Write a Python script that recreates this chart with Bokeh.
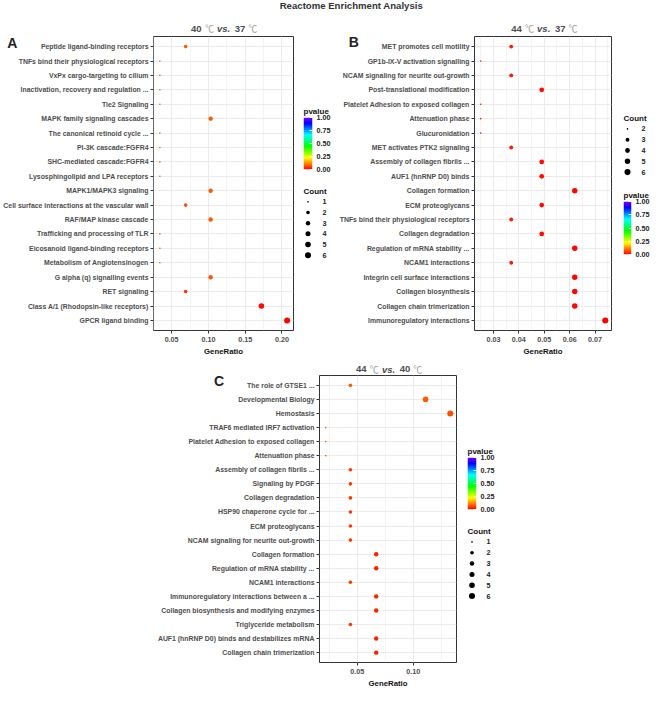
import colorsys, math
import numpy as np
from bokeh.plotting import figure
from bokeh.models import (ColumnDataSource, FactorRange, Range1d, LinearColorMapper,
                          FixedTicker, NumeralTickFormatter, Label, LinearAxis)
from bokeh.layouts import row, column
from bokeh.embed import file_html
from bokeh.resources import INLINE

FONT = "Liberation Sans"
TXT = "#4D4D4D"

# ---------------- data ----------------
MAIN_TITLE = "Reactome Enrichment Analysis"
DEG = "\u2103"

A_TITLE = ["40", "vs.", "37"]
A_TERMS = ["Peptide ligand-binding receptors", "TNFs bind their physiological receptors",
           "VxPx cargo-targeting to cilium", "Inactivation, recovery and regulation ...",
           "Tie2 Signaling", "MAPK family signaling cascades", "The canonical retinoid cycle ...",
           "PI-3K cascade:FGFR4", "SHC-mediated cascade:FGFR4", "Lysosphingolipid and LPA receptors",
           "MAPK1/MAPK3 signaling", "Cell surface interactions at the vascular wall",
           "RAF/MAP kinase cascade", "Trafficking and processing of TLR",
           "Eicosanoid ligand-binding receptors", "Metabolism of Angiotensinogen",
           "G alpha (q) signalling events", "RET signaling",
           "Class A/1 (Rhodopsin-like receptors)", "GPCR ligand binding"]
A_RATIO = [0.069, 0.034, 0.034, 0.034, 0.034, 0.103, 0.034, 0.034, 0.034, 0.034,
           0.103, 0.069, 0.103, 0.034, 0.034, 0.034, 0.103, 0.069, 0.172, 0.207]
A_COUNT = [2, 1, 1, 1, 1, 3, 1, 1, 1, 1, 3, 2, 3, 1, 1, 1, 3, 2, 5, 6]
A_PVAL = [0.08, 0.09, 0.09, 0.09, 0.09, 0.08, 0.09, 0.09, 0.09, 0.09,
          0.08, 0.07, 0.08, 0.09, 0.09, 0.09, 0.08, 0.05, 0.01, 0.005]
A_TICKS = [0.05, 0.10, 0.15, 0.20]
A_MINOR = [0.025, 0.075, 0.125, 0.175, 0.225]
A_KEYS = [1, 2, 3, 4, 5, 6]

B_TITLE = ["44", "vs.", "37"]
B_TERMS = ["MET promotes cell motility", "GP1b-IX-V activation signalling",
           "NCAM signaling for neurite out-growth", "Post-translational modification",
           "Platelet Adhesion to exposed collagen", "Attenuation phase", "Glucuronidation",
           "MET activates PTK2 signaling", "Assembly of collagen fibrils ...",
           "AUF1 (hnRNP D0) binds", "Collagen formation", "ECM proteoglycans",
           "TNFs bind their physiological receptors", "Collagen degradation",
           "Regulation of mRNA stability ...", "NCAM1 interactions",
           "Integrin cell surface interactions", "Collagen biosynthesis",
           "Collagen chain trimerization", "Immunoregulatory interactions"]
B_RATIO = [0.037, 0.025, 0.037, 0.049, 0.025, 0.025, 0.025, 0.037, 0.049, 0.049,
           0.062, 0.049, 0.037, 0.049, 0.062, 0.037, 0.062, 0.062, 0.062, 0.074]
B_COUNT = [3, 2, 3, 4, 2, 2, 2, 3, 4, 4, 5, 4, 3, 4, 5, 3, 5, 5, 5, 6]
B_PVAL = [0.02, 0.03, 0.02, 0.01, 0.03, 0.03, 0.03, 0.02, 0.01, 0.01,
          0.005, 0.01, 0.02, 0.01, 0.005, 0.02, 0.005, 0.005, 0.005, 0.002]
B_TICKS = [0.03, 0.04, 0.05, 0.06, 0.07]
B_MINOR = [0.025, 0.035, 0.045, 0.055, 0.065, 0.075]
B_KEYS = [2, 3, 4, 5, 6]

C_TITLE = ["44", "vs.", "40"]
C_TERMS = ["The role of GTSE1 ...", "Developmental Biology", "Hemostasis",
           "TRAF6 mediated IRF7 activation", "Platelet Adhesion to exposed collagen",
           "Attenuation phase", "Assembly of collagen fibrils ...", "Signaling by PDGF",
           "Collagen degradation", "HSP90 chaperone cycle for ...", "ECM proteoglycans",
           "NCAM signaling for neurite out-growth", "Collagen formation",
           "Regulation of mRNA stability ...", "NCAM1 interactions",
           "Immunoregulatory interactions between a ...",
           "Collagen biosynthesis and modifying enzymes", "Triglyceride metabolism",
           "AUF1 (hnRNP D0) binds and destabilizes mRNA", "Collagen chain trimerization"]
C_RATIO = [0.044, 0.111, 0.133, 0.022, 0.022, 0.022, 0.044, 0.044, 0.044, 0.044,
           0.044, 0.044, 0.067, 0.067, 0.044, 0.067, 0.067, 0.044, 0.067, 0.067]
C_COUNT = [2, 5, 6, 1, 1, 1, 2, 2, 2, 2, 2, 2, 3, 3, 2, 3, 3, 2, 3, 3]
C_PVAL = [0.08, 0.08, 0.07, 0.09, 0.09, 0.09, 0.05, 0.05, 0.05, 0.05,
          0.05, 0.05, 0.03, 0.03, 0.05, 0.03, 0.03, 0.05, 0.03, 0.03]
C_TICKS = [0.05, 0.10]
C_MINOR = [0.025, 0.075, 0.125]
C_KEYS = [1, 2, 3, 4, 5, 6]

PVAL_TICKS = [0.0, 0.25, 0.5, 0.75, 1.0]

# ---------------- layout helpers ----------------
SX = 653 / 669
SY = 690 / 706


def rx(v):
    return int(round(v * SX))


def ry(v):
    return int(round(v * SY))


PAL = []
for i in range(256):
    r, g, b = colorsys.hsv_to_rgb(0.75 * i / 255, 1.0, 1.0)
    PAL.append("#%02x%02x%02x" % (round(r * 255), round(g * 255), round(b * 255)))
MAPPER = LinearColorMapper(palette=PAL, low=0, high=1)
GRAD = np.linspace(0, 1, 256).reshape(256, 1)


def dot_size(c, cmin, cmax):
    return (0.9 * (1 + 5 * math.sqrt((c - cmin) / (cmax - cmin))) + 0.8) * SX


def bare_fig(W, H, **kw):
    p = figure(width=W, height=H, x_axis_type=None, y_axis_type=None,
               x_range=Range1d(0, 1), y_range=Range1d(0, 1), toolbar_location=None,
               output_backend="svg", title=None, min_border=0, **kw)
    p.outline_line_color = None
    p.grid.visible = False
    p.border_fill_alpha = 0
    p.background_fill_alpha = 0
    return p


def add_text(p, H, xref, yref, text, size, style, color, align="center", font=FONT):
    p.add_layout(Label(x=xref * SX, y=H - yref * SY, x_units="screen", y_units="screen",
                       text=text, text_align=align, text_baseline="middle",
                       text_font=font, text_font_style=style, text_font_size=size,
                       text_color=color))


def add_panel_title(p, H, cx, cy, parts):
    cjk = "Noto Sans CJK SC"
    add_text(p, H, cx - 22, cy, parts[0], "9.5px", "bold", TXT, "right")
    add_text(p, H, cx - 14, cy, DEG, "9px", "normal", "#9A9A9A", "center", cjk)
    add_text(p, H, cx + 0.5, cy, parts[1], "9.5px", "bold italic", TXT, "center")
    add_text(p, H, cx + 12, cy, parts[2], "9.5px", "bold", TXT, "left")
    add_text(p, H, cx + 30.5, cy, DEG, "9px", "normal", "#9A9A9A", "center", cjk)


def main_panel(terms, ratio, count, pval, ticks, minor, x0, x1, fl, fr, yt, yb, ft, fb):
    W = rx(x1) - rx(x0)
    H = ry(yb) - ry(yt)
    bl = rx(fl) - rx(x0)
    br = rx(x1) - rx(fr)
    bt = ry(ft) - ry(yt)
    bb = ry(yb) - ry(fb)
    lo, hi = min(ratio), max(ratio)
    pad = 0.05 * (hi - lo)
    yr = FactorRange(factors=list(reversed(terms)), range_padding=0.2,
                     range_padding_units="absolute")
    p = figure(width=W, height=H, x_range=Range1d(lo - pad, hi + pad), y_range=yr,
               toolbar_location=None, output_backend="svg", title=None,
               min_border_left=bl, min_border_right=br, min_border_top=bt,
               min_border_bottom=bb)
    cmin, cmax = min(count), max(count)
    src = ColumnDataSource(dict(term=terms, ratio=ratio, count=count, p=pval,
                                size=[dot_size(c, cmin, cmax) for c in count]))
    p.scatter("ratio", "term", size="size", source=src,
              fill_color={"field": "p", "transform": MAPPER}, line_color=None)
    p.xaxis.ticker = FixedTicker(ticks=ticks, minor_ticks=minor)
    p.xaxis.formatter = NumeralTickFormatter(format="0.00")
    for ax in p.axis:
        ax.axis_line_color = None
        ax.major_tick_line_color = "#333333"
        ax.major_tick_out = 3
        ax.major_tick_in = 0
        ax.minor_tick_line_color = None
        ax.major_label_text_font = FONT
        ax.major_label_text_font_style = "bold"
        ax.major_label_text_color = TXT
        ax.major_label_standoff = 2
    p.yaxis.major_label_text_font_size = "6.9px"
    p.xaxis.major_label_text_font_size = "7.2px"
    p.xaxis.axis_label = "GeneRatio"
    p.xaxis.axis_label_text_font = FONT
    p.xaxis.axis_label_text_font_style = "bold"
    p.xaxis.axis_label_text_font_size = "7.8px"
    p.xaxis.axis_label_text_color = "#111111"
    p.xaxis.axis_label_standoff = 2
    p.xgrid.grid_line_color = "#EBEBEB"
    p.xgrid.minor_grid_line_color = "#EDEDED"
    p.xgrid.minor_grid_line_width = 0.6
    p.ygrid.grid_line_color = "#EBEBEB"
    p.outline_line_color = "#333333"
    p.outline_line_width = 1
    p.outline_line_alpha = 1
    p.background_fill_color = "white"
    p.border_fill_alpha = 0
    return p


def cbar_fig(x0, x1, bar_left, top, bottom, bar_top, bar_bot):
    W = rx(x1) - rx(x0)
    H = ry(bottom) - ry(top)
    bl = rx(bar_left) - rx(x0)
    bt = ry(bar_top) - ry(top)
    bb = ry(bottom) - ry(bar_bot)
    p = figure(width=W, height=H, x_range=Range1d(0, 1), y_range=Range1d(0, 1),
               x_axis_location=None, y_axis_location=None, toolbar_location=None,
               output_backend="svg", title="pvalue",
               min_border_left=bl, min_border_right=W - bl - 11,
               min_border_top=bt, min_border_bottom=bb)
    p.image(image=[GRAD], x=0, y=0, dw=1, dh=1, color_mapper=MAPPER)
    ax = LinearAxis(ticker=FixedTicker(ticks=PVAL_TICKS),
                    formatter=NumeralTickFormatter(format="0.00"))
    ax.axis_line_color = None
    ax.major_tick_line_color = "white"
    ax.major_tick_in = 3
    ax.major_tick_out = 0
    ax.minor_tick_line_color = None
    ax.major_label_standoff = 4
    ax.major_label_text_font = FONT
    ax.major_label_text_font_style = "bold"
    ax.major_label_text_font_size = "7.2px"
    ax.major_label_text_color = "#222222"
    p.add_layout(ax, "right")
    p.grid.visible = False
    p.outline_line_color = None
    p.border_fill_alpha = 0
    p.title.text_font = FONT
    p.title.text_font_style = "bold"
    p.title.text_font_size = "8px"
    p.title.text_color = "#111111"
    p.title.align = "left"
    p.title.standoff = 3
    p.title.offset = 0
    return p


def count_fig(keys, x0, x1, fl, fr, top, bottom, ftop, fbot):
    W = rx(x1) - rx(x0)
    H = ry(bottom) - ry(top)
    labels = [str(k) for k in keys]
    cmin, cmax = min(keys), max(keys)
    src = ColumnDataSource(dict(lab=labels, col=["dot"] * len(keys),
                                size=[dot_size(k, cmin, cmax) for k in keys]))
    p = figure(width=W, height=H, x_range=FactorRange(factors=["dot"]),
               y_range=FactorRange(factors=list(reversed(labels))),
               x_axis_location=None, y_axis_location="right", toolbar_location=None,
               output_backend="svg", title="Count",
               min_border_left=rx(fl) - rx(x0), min_border_right=rx(x1) - rx(fr),
               min_border_top=ry(ftop) - ry(top), min_border_bottom=ry(bottom) - ry(fbot))
    p.scatter("col", "lab", size="size", source=src, fill_color="black", line_color=None)
    p.grid.visible = False
    p.outline_line_color = None
    p.border_fill_alpha = 0
    p.yaxis.axis_line_color = None
    p.yaxis.major_tick_line_color = None
    p.yaxis.minor_tick_line_color = None
    p.yaxis.major_label_standoff = 4
    p.yaxis.major_label_text_font = FONT
    p.yaxis.major_label_text_font_style = "bold"
    p.yaxis.major_label_text_font_size = "7.2px"
    p.yaxis.major_label_text_color = "#222222"
    p.title.text_font = FONT
    p.title.text_font_style = "bold"
    p.title.text_font_size = "8px"
    p.title.text_color = "#111111"
    p.title.align = "left"
    p.title.standoff = 2
    p.title.offset = 0
    return p


# ---------------- text strips (titles and panel letters) ----------------
S1_H = ry(52)
strip1 = bare_fig(rx(669), S1_H, margin=(0, 0, -(ry(52) - ry(17)), 0))
add_text(strip1, S1_H, 359.5, 5, MAIN_TITLE, "9.6px", "bold", "#333333")
add_panel_title(strip1, S1_H, 228, 29, A_TITLE)
add_panel_title(strip1, S1_H, 556, 29, B_TITLE)
add_text(strip1, S1_H, 12, 43, "A", "14px", "bold", "#222222")
add_text(strip1, S1_H, 362, 42, "B", "14px", "bold", "#222222")

S2_H = ry(398) - ry(366)
strip2 = bare_fig(rx(669), S2_H, margin=(0, 0, -S2_H, 0))
add_panel_title(strip2, S2_H, 397, 377 - 366, C_TITLE)
add_text(strip2, S2_H, 224, 389 - 366, "C", "14px", "bold", "#222222")

# ---------------- panels ----------------
pA = main_panel(A_TERMS, A_RATIO, A_COUNT, A_PVAL, A_TICKS, A_MINOR,
                0, 303, 156, 300, 17, 366, 37, 338)
pB = main_panel(B_TERMS, B_RATIO, B_COUNT, B_PVAL, B_TICKS, B_MINOR,
                344, 630, 486, 626, 17, 366, 37, 338)
pC = main_panel(C_TERMS, C_RATIO, C_COUNT, C_PVAL, C_TICKS, C_MINOR,
                0, 472, 327, 467, 366, 706, 384, 686)

legA = column(cbar_fig(303, 344, 310, 17, 180, 120, 173),
              count_fig(A_KEYS, 303, 344, 310, 320, 180, 366, 200.5, 266.5))
legB = column(count_fig(B_KEYS, 630, 669, 638, 646, 17, 188, 125.5, 181.5),
              cbar_fig(630, 669, 638, 188, 366, 206, 260))
legC = column(cbar_fig(472, 515, 478, 366, 527, 468, 521),
              count_fig(C_KEYS, 472, 515, 478, 488, 527, 706, 548.5, 614.5))

layout = column(strip1, row(pA, legA, pB, legB), strip2, row(pC, legC))

open("out.html", "w").write(file_html(layout, INLINE))
